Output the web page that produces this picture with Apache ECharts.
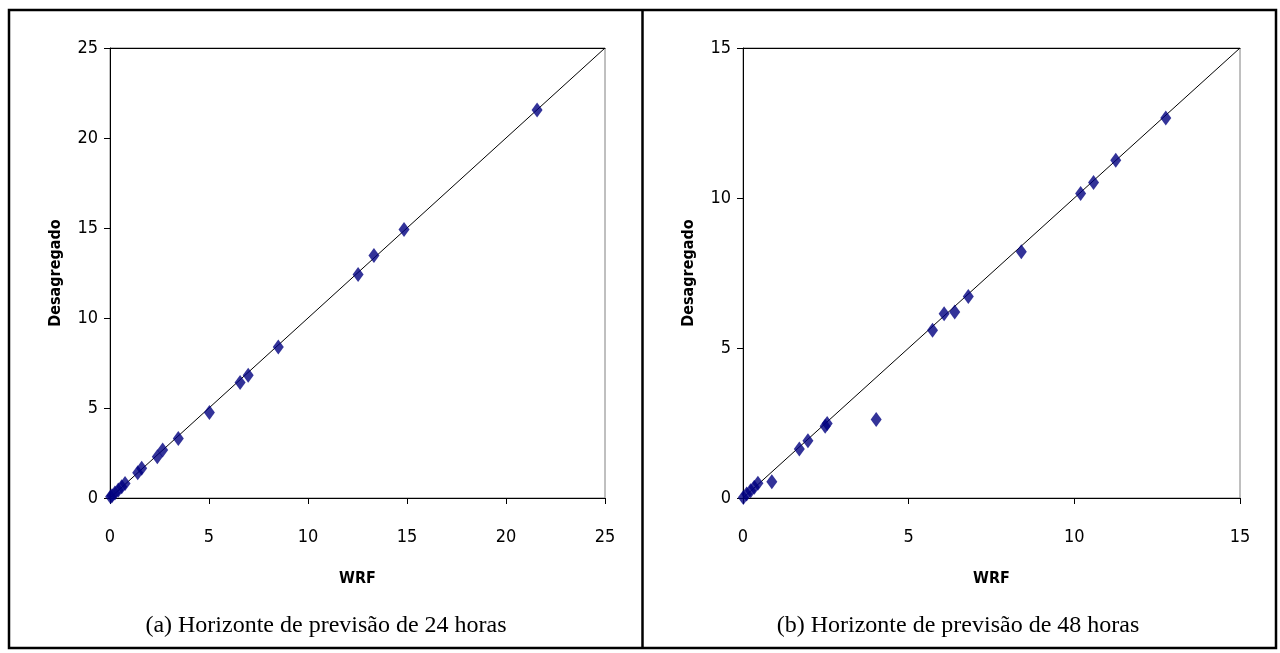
<!DOCTYPE html>
<html>
<head>
<meta charset="utf-8">
<script src="https://cdn.jsdelivr.net/npm/echarts@6/dist/echarts.min.js"></script>
<style>
  html, body { margin: 0; padding: 0; background: #fff; }
  #chart { width: 1280px; height: 653px; }
</style>
</head>
<body>
<div id="chart"></div>
<script>
// Panel (a): 24-hour forecast horizon — WRF vs disaggregated values
const wrf24 = [21.57, 14.85, 13.33, 12.53, 8.50, 6.98, 6.57, 5.02, 3.45, 2.66, 2.39, 1.60, 1.40, 0.76, 0.59, 0.42, 0.25, 0.10, 0.03];
const desag24 = [21.56, 14.91, 13.47, 12.42, 8.39, 6.82, 6.41, 4.75, 3.31, 2.66, 2.29, 1.65, 1.40, 0.81, 0.63, 0.44, 0.28, 0.12, 0.07];

// Panel (b): 48-hour forecast horizon
const wrf48 = [12.76, 11.25, 10.58, 10.19, 8.40, 6.80, 6.39, 6.07, 5.72, 4.02, 2.54, 2.48, 1.96, 1.70, 0.87, 0.45, 0.34, 0.23, 0.11, 0.01];
const desag48 = [12.67, 11.26, 10.52, 10.15, 8.21, 6.72, 6.20, 6.14, 5.59, 2.62, 2.48, 2.39, 1.91, 1.63, 0.54, 0.49, 0.36, 0.24, 0.13, 0.02];

// Axis ranges and tick steps
const axisMax = [25, 15];
const axisStep = 5;

const xTitle = 'WRF';
const yTitle = 'Desagregado';
const captions = ['(a) Horizonte de previsão de 24 horas', '(b) Horizonte de previsão de 48 horas'];

const NARROW = '"DejaVu Sans Condensed", "Liberation Sans Narrow", "Arial Narrow", "Liberation Sans", sans-serif';
const SERIF = '"Liberation Serif", "Times New Roman", serif';

const pairs = (xs, ys) => xs.map((x, i) => [x, ys[i]]);

const grids = [
  { left: 110, top: 48, width: 495, height: 450 },
  { left: 743, top: 48, width: 497, height: 450 }
];

const xAxes = [];
const yAxes = [];
const series = [];

grids.forEach((g, i) => {
  const max = axisMax[i];
  xAxes.push({
    gridIndex: i, type: 'value', min: 0, max: max, interval: axisStep,
    name: xTitle, nameLocation: 'middle', nameGap: 73,
    nameTextStyle: { fontFamily: NARROW, fontWeight: 'bold', fontSize: 16, color: '#000' },
    axisLine: { lineStyle: { color: '#000', width: 1 } },
    axisTick: { inside: false, length: 6, lineStyle: { color: '#000' } },
    axisLabel: { margin: 30, fontFamily: NARROW, fontSize: 18, color: '#000' },
    splitLine: { show: false }
  });
  // top edge of the plot area
  xAxes.push({
    gridIndex: i, type: 'value', min: 0, max: max, position: 'top',
    axisLine: { show: true, onZero: false, lineStyle: { color: '#000', width: 1 } },
    axisTick: { show: false }, axisLabel: { show: false }, splitLine: { show: false }
  });
  yAxes.push({
    gridIndex: i, type: 'value', min: 0, max: max, interval: axisStep,
    name: yTitle, nameLocation: 'middle', nameGap: 46, nameRotate: 90,
    nameTextStyle: { fontFamily: NARROW, fontWeight: 'bold', fontSize: 16, color: '#000' },
    axisLine: { show: true, lineStyle: { color: '#000', width: 1 } },
    axisTick: { show: true, inside: false, length: 6, lineStyle: { color: '#000' } },
    axisLabel: { margin: 12, fontFamily: NARROW, fontSize: 18, color: '#000' },
    splitLine: { show: false }
  });
});

const dataSets = [pairs(wrf24, desag24), pairs(wrf48, desag48)];

dataSets.forEach((d, i) => {
  // 1:1 reference line
  series.push({
    type: 'line', xAxisIndex: i * 2, yAxisIndex: i,
    data: [[0, 0], [axisMax[i], axisMax[i]]],
    symbol: 'none', silent: true,
    lineStyle: { color: '#000', width: 1 },
    z: 2
  });
  series.push({
    type: 'scatter', xAxisIndex: i * 2, yAxisIndex: i,
    data: d,
    symbol: 'diamond', symbolSize: [11, 15],
    itemStyle: { color: '#000080' },
    z: 3
  });
});

const chart = echarts.init(document.getElementById('chart'), null, { renderer: 'canvas' });
chart.setOption({
  animation: false,
  backgroundColor: '#fff',
  grid: grids.map(g => Object.assign({ show: true, borderColor: '#808080', borderWidth: 1, backgroundColor: 'transparent' }, g)),
  xAxis: xAxes,
  yAxis: yAxes,
  series: series,
  graphic: [
    // outer frame and divider
    { type: 'rect', shape: { x: 9, y: 10, width: 1267, height: 638 }, style: { fill: 'none', stroke: '#000', lineWidth: 2.5 }, silent: true },
    { type: 'line', shape: { x1: 642.5, y1: 10, x2: 642.5, y2: 648 }, style: { stroke: '#000', lineWidth: 2.5 }, silent: true },
    { type: 'text', x: 326, y: 626, style: { text: captions[0], font: '24px ' + SERIF, fill: '#000', textAlign: 'center', textVerticalAlign: 'middle' } },
    { type: 'text', x: 958, y: 626, style: { text: captions[1], font: '24px ' + SERIF, fill: '#000', textAlign: 'center', textVerticalAlign: 'middle' } }
  ]
});
</script>
</body>
</html>
